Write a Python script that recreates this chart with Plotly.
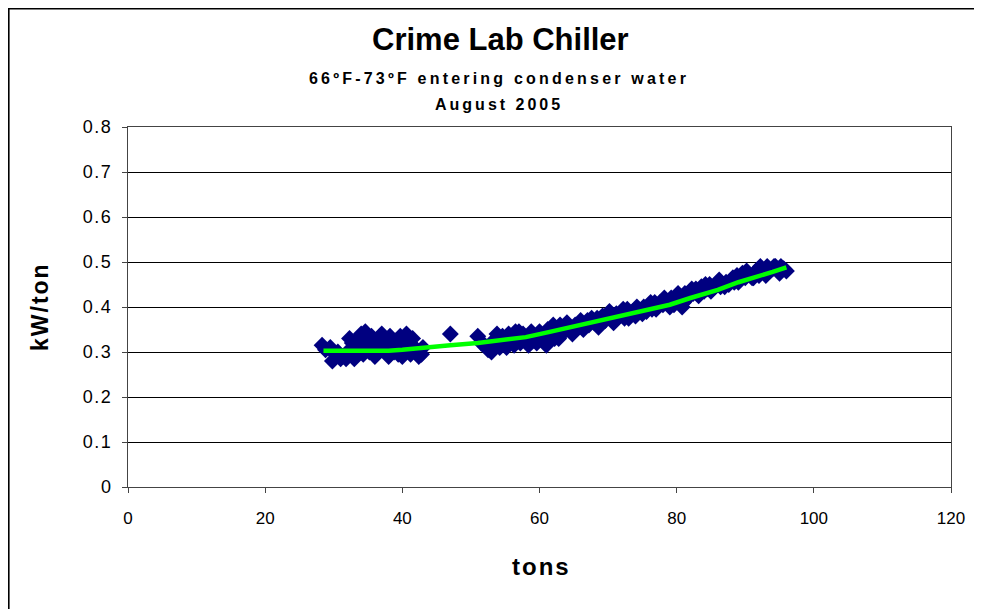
import plotly.graph_objects as go

# ---- data ----
tons = [
    28.3, 28.8, 29.5, 29.8, 30.2, 30.6, 31.0, 31.3, 31.8, 32.0, 32.3, 32.7, 33.0, 33.2, 33.5, 33.6,
    34.0, 34.3, 34.6, 34.9, 35.2, 35.5, 35.8, 36.0, 36.1, 36.4, 36.7, 37.0, 37.3, 37.6, 37.9, 38.0,
    38.2, 38.5, 38.8, 39.1, 39.4, 39.7, 40.0, 40.0, 40.3, 40.6, 40.9, 41.2, 41.5, 41.8, 42.1, 42.4,
    42.8, 43.0,
    47.0,
    51.0, 51.5, 52.0, 52.5, 53.0, 53.3, 53.8, 54.2, 54.6, 55.0, 55.5, 56.0, 56.3, 56.8, 57.2, 57.6,
    58.0, 58.4, 58.8, 59.2, 59.6, 60.0, 60.4, 60.8, 61.0, 61.2, 61.6, 62.0, 62.4, 62.8, 63.2, 63.6,
    64.0, 64.4, 64.8, 65.2, 65.6, 66.0, 66.4, 66.8, 67.2, 67.6, 68.0, 68.4, 68.8, 69.2, 69.6, 70.0,
    70.4, 70.8, 71.2, 71.6, 72.0, 72.4, 72.8, 73.2, 73.6, 74.0, 74.4, 74.8, 75.2, 75.6, 76.0, 76.4,
    76.8, 77.2, 77.6, 78.0, 78.4, 78.8, 79.2, 79.6, 80.0, 80.4, 80.8, 81.2, 81.6, 82.0, 82.4, 82.8,
    83.2, 83.6, 84.0, 84.4, 84.8, 85.2, 85.6, 86.0, 86.4, 86.8, 87.2, 87.6, 88.0, 88.4, 88.8, 89.2,
    89.6, 90.0, 90.4, 90.8, 91.2, 91.6, 92.0, 92.4, 92.8, 93.2, 93.6, 94.0, 94.4, 94.8, 95.2, 95.6,
    96.0,
    55.2, 56.5, 57.0, 59.0, 62.2, 63.0, 65.0, 67.0, 68.6, 70.2, 71.0, 72.2, 73.0, 74.2, 75.0, 76.2,
    77.0, 78.2, 79.0, 80.2, 81.0, 82.2, 83.0, 84.2, 85.0, 86.2, 87.0, 88.2, 89.0, 90.2, 91.0, 92.2,
    93.0, 94.2, 95.0,
]
kw_per_ton = [
    0.315, 0.305, 0.310, 0.280, 0.295, 0.300, 0.285, 0.290, 0.285, 0.300, 0.330, 0.320, 0.285, 0.310, 0.315, 0.330,
    0.340, 0.295, 0.345, 0.320, 0.300, 0.335, 0.310, 0.290, 0.320, 0.300, 0.330, 0.340, 0.305, 0.325, 0.295, 0.290,
    0.335, 0.310, 0.300, 0.325, 0.295, 0.335, 0.310, 0.290, 0.300, 0.340, 0.320, 0.295, 0.330, 0.310, 0.300, 0.290,
    0.295, 0.310,
    0.340,
    0.335, 0.320, 0.315, 0.305, 0.300, 0.325, 0.340, 0.310, 0.335, 0.320, 0.340, 0.325, 0.315, 0.335, 0.320, 0.340,
    0.325, 0.315, 0.345, 0.330, 0.320, 0.345, 0.335, 0.325, 0.315, 0.350, 0.340, 0.360, 0.345, 0.330, 0.355, 0.345,
    0.365, 0.350, 0.340, 0.360, 0.355, 0.370, 0.350, 0.365, 0.360, 0.375, 0.365, 0.375, 0.360, 0.380, 0.370, 0.385,
    0.375, 0.365, 0.385, 0.380, 0.390, 0.375, 0.395, 0.385, 0.390, 0.380, 0.395, 0.390, 0.400, 0.390, 0.405, 0.395,
    0.410, 0.400, 0.410, 0.405, 0.415, 0.410, 0.420, 0.405, 0.425, 0.415, 0.400, 0.430, 0.420, 0.435, 0.430, 0.440,
    0.425, 0.445, 0.435, 0.440, 0.450, 0.440, 0.445, 0.455, 0.445, 0.450, 0.455, 0.450, 0.460, 0.455, 0.470, 0.460,
    0.475, 0.465, 0.475, 0.470, 0.465, 0.480, 0.470, 0.485, 0.475, 0.490, 0.480, 0.485, 0.490, 0.480, 0.490, 0.485,
    0.480,
    0.310, 0.345, 0.345, 0.325, 0.330, 0.360, 0.345, 0.370, 0.355, 0.390, 0.370, 0.395, 0.375, 0.400, 0.385, 0.410,
    0.395, 0.420, 0.400, 0.430, 0.410, 0.440, 0.430, 0.450, 0.435, 0.460, 0.445, 0.465, 0.455, 0.480, 0.465, 0.490,
    0.470, 0.490, 0.475,
]
trend_tons = [28.5, 33, 38, 40, 43, 47, 51, 55, 58, 61, 64.5, 68, 72, 76, 79, 82, 86, 89, 92, 94, 96]
trend_kw = [0.303, 0.302, 0.303, 0.305, 0.310, 0.315, 0.320, 0.327, 0.333, 0.343, 0.355, 0.367,
            0.382, 0.394, 0.405, 0.420, 0.438, 0.455, 0.468, 0.478, 0.488]

x_ticks = [0, 20, 40, 60, 80, 100, 120]
y_ticks = [0, 0.1, 0.2, 0.3, 0.4, 0.5, 0.6, 0.7, 0.8]

title = "Crime Lab Chiller"
subtitle1 = "66ºF-73ºF entering condenser water"
subtitle2 = "August 2005"
x_title = "tons"
y_title = "kW/ton"

# ---- layout geometry (page body has an 8px margin) ----
OFF = 8
W, H = 974, 601
L, R, T, B = 120, 31, 119, 122
PW, PH = W - L - R, H - T - B


def px(bx):
    """browser-window x pixel -> paper x"""
    return (bx - OFF - L) / PW


def py(by):
    """browser-window y pixel -> paper y"""
    return (H - B - (by - OFF)) / PH


FONT = "Liberation Sans, Arial, sans-serif"


def spaced(s, sp):
    return f'<span style="letter-spacing:{sp}px">{s}</span>'


fig = go.Figure()
fig.add_trace(go.Scatter(
    x=tons, y=kw_per_ton, mode="markers",
    marker=dict(symbol="diamond", size=13, color="#000080", line=dict(width=0)),
    showlegend=False, hoverinfo="x+y",
))
fig.add_trace(go.Scatter(
    x=trend_tons, y=trend_kw, mode="lines",
    line=dict(color="#00FF00", width=4.5),
    showlegend=False,
))

axis_common = dict(
    zeroline=False, showline=True, linecolor="#444444", linewidth=1,
    mirror=True, ticks="outside", ticklen=5, tickcolor="#444444",
)
fig.update_xaxes(range=[0, 120], tickvals=x_ticks, ticktext=[str(v) for v in x_ticks],
                 showgrid=False, ticklabelstandoff=11,
                 tickfont=dict(family=FONT, size=17, color="black"), **axis_common)
fig.update_yaxes(range=[0, 0.8], tickvals=y_ticks,
                 ticktext=[spaced(f"{v:g}", 1.5) for v in y_ticks],
                 showgrid=True, gridcolor="black", gridwidth=1, ticklabelstandoff=6,
                 tickfont=dict(family=FONT, size=18, color="black"), **axis_common)

anns = [
    dict(text=f"<b>{title}</b>", x=px(500), y=py(40), font=dict(size=31)),
    dict(text=f"<b>{spaced(subtitle1, 3.2)}</b>", x=px(499), y=py(78), font=dict(size=16)),
    dict(text=f"<b>{spaced(subtitle2, 3)}</b>", x=px(499), y=py(104), font=dict(size=16)),
    dict(text=f"<b>{spaced(x_title, 2)}</b>", x=px(541), y=py(566), font=dict(size=24)),
    dict(text=f"<b>{spaced(y_title, 2)}</b>", x=px(40), y=py(307), font=dict(size=23), textangle=-90),
]
for a in anns:
    a.update(xref="paper", yref="paper", showarrow=False, xanchor="center", yanchor="middle")
    a["font"].update(family=FONT, color="black")
fig.update_layout(annotations=anns)

# outer chart-area border (only left and top edges fall inside the frame)
fig.add_shape(type="rect", xref="paper", yref="paper",
              x0=px(8.8), y0=py(700), x1=px(1100), y1=py(8.8),
              line=dict(color="black", width=1.6), layer="below")

fig.update_layout(
    width=W, height=H,
    margin=dict(l=L, r=R, t=T, b=B, pad=0),
    paper_bgcolor="white", plot_bgcolor="white",
    font=dict(family=FONT, color="black"),
)

fig.write_html("out.html")
